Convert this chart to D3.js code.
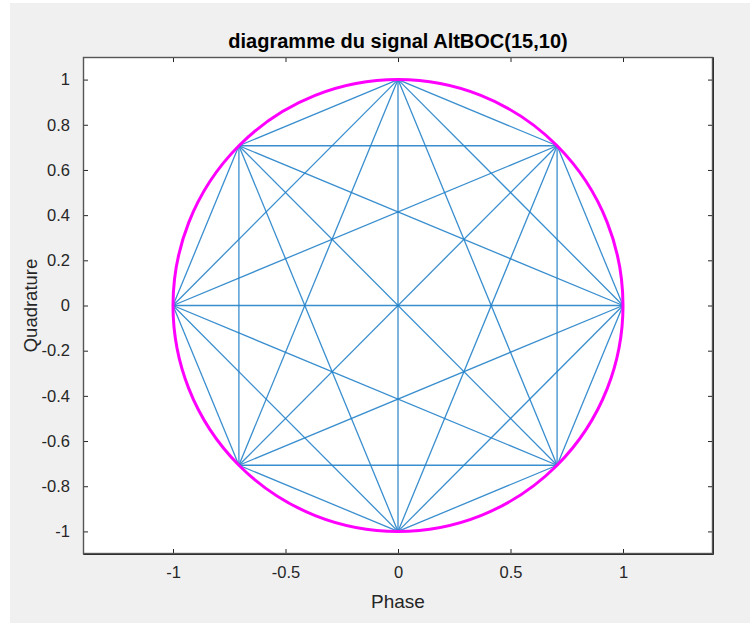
<!DOCTYPE html>
<html>
<head>
<meta charset="utf-8">
<script src="https://cdn.jsdelivr.net/npm/d3@7"></script>
<style>
  html, body { margin: 0; padding: 0; background: #ffffff; }
  svg { display: block; }
  text { font-family: "Liberation Sans", Arial, Helvetica, sans-serif; }
</style>
</head>
<body>
<script>
// 8-PSK constellation of the AltBOC(15,10) signal: in-phase / quadrature values
const symbolPhase = [1, 0.7071, 0, -0.7071, -1, -0.7071, 0, 0.7071];
const symbolQuad  = [0, 0.7071, 1, 0.7071, 0, -0.7071, -1, -0.7071];
const unitRadius = [1];
const xTicks = [-1, -0.5, 0, 0.5, 1];
const yTicks = [-1, -0.8, -0.6, -0.4, -0.2, 0, 0.2, 0.4, 0.6, 0.8, 1];
const xDomain = [-1.4, 1.4];
const yDomain = [-1.1, 1.1];

const W = 750, H = 623;
const plot = { left: 83, top: 57, right: 713, bottom: 554 };
const axisColor = "#262626";

const svg = d3.select("body").append("svg").attr("width", W).attr("height", H);

// figure background
svg.append("rect").attr("x", 10).attr("y", 3).attr("width", W - 10).attr("height", H - 3)
  .attr("fill", "#f0f0f0");

const x = d3.scaleLinear().domain(xDomain).range([plot.left, plot.right]);
const y = d3.scaleLinear().domain(yDomain).range([plot.bottom, plot.top]);

// axes area
svg.append("rect")
  .attr("x", plot.left).attr("y", plot.top)
  .attr("width", plot.right - plot.left).attr("height", plot.bottom - plot.top)
  .attr("fill", "#ffffff");

svg.append("clipPath").attr("id", "plotclip").append("rect")
  .attr("x", plot.left).attr("y", plot.top)
  .attr("width", plot.right - plot.left).attr("height", plot.bottom - plot.top);

const g = svg.append("g").attr("clip-path", "url(#plotclip)");

// every transition between constellation points
const points = symbolPhase.map((p, i) => ({ i: p, q: symbolQuad[i] }));
const transitions = [];
for (let a = 0; a < points.length; a++) {
  for (let b = a + 1; b < points.length; b++) {
    transitions.push([points[a], points[b]]);
  }
}

g.selectAll("line.tr").data(transitions).join("line")
  .attr("class", "tr")
  .attr("x1", d => x(d[0].i)).attr("y1", d => y(d[0].q))
  .attr("x2", d => x(d[1].i)).attr("y2", d => y(d[1].q))
  .attr("stroke", "#2482c9")
  .attr("stroke-width", 1.3)
  .attr("stroke-opacity", 0.9);

// unit circle
g.selectAll("ellipse.unit").data(unitRadius).join("ellipse")
  .attr("class", "unit")
  .attr("cx", x(0)).attr("cy", y(0))
  .attr("rx", r => x(r) - x(0)).attr("ry", r => y(0) - y(r))
  .attr("fill", "none")
  .attr("stroke", "#ff00ff")
  .attr("stroke-width", 3);

// axes with inward ticks on all sides
const tickLen = 5;
const fontSize = 16.5;
const fmt = d => d3.format("~g")(d).replace("\u2212", "-");

const axB = d3.axisBottom(x).tickValues(xTicks).tickSizeInner(-tickLen).tickSizeOuter(0)
  .tickPadding(12).tickFormat(fmt);
const axT = d3.axisTop(x).tickValues(xTicks).tickSizeInner(-tickLen).tickSizeOuter(0)
  .tickFormat("");
const axL = d3.axisLeft(y).tickValues(yTicks).tickSizeInner(-tickLen).tickSizeOuter(0)
  .tickPadding(13).tickFormat(fmt);
const axR = d3.axisRight(y).tickValues(yTicks).tickSizeInner(-tickLen).tickSizeOuter(0)
  .tickFormat("");

function style(sel) {
  sel.selectAll("path").attr("stroke", axisColor).attr("stroke-width", 1);
  sel.selectAll("line").attr("stroke", axisColor).attr("stroke-width", 1);
  sel.selectAll("text").attr("fill", axisColor).style("font-size", fontSize + "px")
    .style("font-family", "'Liberation Sans', Arial, sans-serif");
}

svg.append("g").attr("transform", `translate(0,${plot.bottom})`).call(axB).call(style);
svg.append("g").attr("transform", `translate(0,${plot.top})`).call(axT).call(style);
svg.append("g").attr("transform", `translate(${plot.left},0)`).call(axL).call(style);
svg.append("g").attr("transform", `translate(${plot.right},0)`).call(axR).call(style);

// box
svg.append("rect")
  .attr("x", plot.left + 0.5).attr("y", plot.top + 0.5)
  .attr("width", plot.right - plot.left - 1).attr("height", plot.bottom - plot.top - 1)
  .attr("fill", "none").attr("stroke", "#555555").attr("stroke-width", 1.4);

// titles
svg.append("text")
  .attr("x", (plot.left + plot.right) / 2).attr("y", 48)
  .attr("text-anchor", "middle")
  .attr("font-weight", "bold").style("font-size", "20px")
  .attr("fill", "#000000")
  .text("diagramme du signal AltBOC(15,10)");

svg.append("text")
  .attr("x", (plot.left + plot.right) / 2).attr("y", 608)
  .attr("text-anchor", "middle").style("font-size", "19px")
  .attr("fill", axisColor)
  .text("Phase");

svg.append("text")
  .attr("transform", `translate(37,${(plot.top + plot.bottom) / 2}) rotate(-90)`)
  .attr("text-anchor", "middle").style("font-size", "18.5px")
  .attr("fill", axisColor)
  .text("Quadrature");
</script>
</body>
</html>
